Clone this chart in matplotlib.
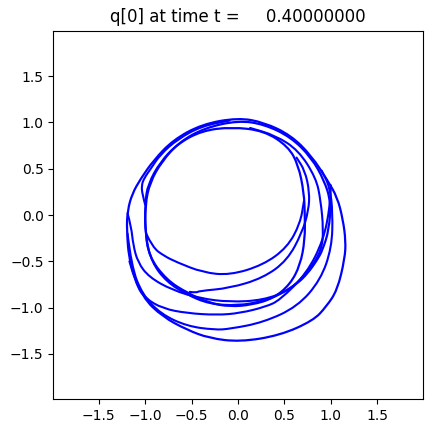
import numpy as np
import matplotlib
matplotlib.use("Agg")
import matplotlib.pyplot as plt
from matplotlib.path import Path
from matplotlib.patches import PathPatch

# contour curves, (x, y) in data units
inner_ring = [(-0.07, 0.95), (-0.39, 0.91), (-0.65, 0.77), (-0.84, 0.57), (-0.97, 0.33),
              (-1.00, 0.14), (-1.00, -0.16), (-0.96, -0.45), (-0.77, -0.70), (-0.55, -0.84),
              (-0.31, -0.95), (-0.09, -0.99), (0.15, -0.97), (0.38, -0.90), (0.56, -0.75),
              (0.67, -0.54), (0.72, -0.27), (0.72, 0.00), (0.71, 0.24), (0.65, 0.54),
              (0.54, 0.74), (0.28, 0.91), (-0.07, 0.95)]

spiral_band = [(0.00, 1.02), (0.28, 0.98), (0.57, 0.84), (0.79, 0.62), (0.93, 0.37),
               (1.00, 0.14), (0.98, -0.16), (0.91, -0.38), (0.85, -0.49), (0.75, -0.63),
               (0.64, -0.74), (0.45, -0.86), (0.27, -0.93), (0.00, -0.98), (-0.31, -0.96),
               (-0.55, -0.86), (-0.77, -0.72), (-0.93, -0.51), (-1.00, -0.22), (-1.00, 0.11),
               (-0.95, 0.35), (-0.82, 0.58), (-0.63, 0.79), (-0.36, 0.94), (0.00, 1.02)]

outer_ring = [(0.00, 1.05), (0.28, 1.00), (0.57, 0.86), (0.79, 0.64), (0.96, 0.38),
              (1.07, 0.19), (1.13, -0.05), (1.16, -0.28), (1.15, -0.47), (1.07, -0.81),
              (0.95, -0.99), (0.81, -1.14), (0.45, -1.30), (0.02, -1.37), (-0.31, -1.33),
              (-0.55, -1.24), (-0.81, -1.10), (-1.03, -0.89), (-1.17, -0.52), (-1.20, -0.16),
              (-1.19, 0.05), (-1.14, 0.23), (-1.05, 0.39), (-0.91, 0.59), (-0.70, 0.81),
              (-0.39, 0.98), (0.00, 1.05)]

inner_arc = [(-0.99, -0.20), (-0.92, -0.35), (-0.80, -0.44), (-0.66, -0.51), (-0.38, -0.62),
             (-0.09, -0.65), (0.27, -0.54), (0.53, -0.35), (0.67, -0.09), (0.71, 0.15)]

kinked_arc = [(-0.52, -0.83), (-0.45, -0.84), (-0.42, -0.82), (-0.09, -0.79), (0.27, -0.68),
              (0.53, -0.49), (0.69, -0.19), (0.76, 0.05), (0.77, 0.25), (0.72, 0.48),
              (0.63, 0.62)]

mid_loop = [(-1.19, 0.02), (-1.15, -0.13), (-1.13, -0.32), (-1.08, -0.51), (-0.96, -0.67),
            (-0.71, -0.81), (-0.41, -0.90), (-0.09, -0.94), (0.27, -0.92), (0.56, -0.81),
            (0.77, -0.59), (0.90, -0.38), (0.92, -0.16), (0.89, 0.16), (0.84, 0.40),
            (0.65, 0.70), (0.40, 0.86), (0.13, 0.94)]

lower_arc = [(-1.17, -0.50), (-1.10, -0.75), (-1.00, -0.90), (-0.81, -1.01), (-0.55, -1.06),
             (-0.23, -1.08), (0.02, -1.06), (0.30, -0.99), (0.45, -0.92), (0.74, -0.63),
             (0.92, -0.27), (0.99, 0.09), (1.00, 0.32)]

bottom_arc = [(-1.19, -0.20), (-1.15, -0.55), (-1.03, -0.86), (-0.83, -1.07), (-0.55, -1.20),
              (-0.25, -1.24), (-0.09, -1.23), (0.27, -1.16), (0.64, -0.99), (0.89, -0.70),
              (1.01, -0.35), (1.02, 0.02), (0.99, 0.30), (0.90, 0.48)]

spike_line = [(-1.00, 0.11), (-1.03, 0.22), (-1.04, 0.32), (-1.01, 0.40), (-0.94, 0.50),
              (-0.84, 0.65), (-0.65, 0.82), (-0.39, 0.96), (-0.09, 1.02)]

closed_curves = [inner_ring, spiral_band, outer_ring]
open_curves = [inner_arc, kinked_arc, mid_loop, lower_arc, bottom_arc, spike_line]


def smooth_path(pts, closed):
    # quadratic bezier through segment midpoints, read points act as controls
    pts = np.asarray(pts, dtype=float)
    if closed:
        pts = pts[:-1]
        mids = (pts + np.roll(pts, -1, axis=0)) / 2
        verts = [mids[-1]]
        codes = [Path.MOVETO]
        for i in range(len(pts)):
            verts += [pts[i], mids[i]]
            codes += [Path.CURVE3, Path.CURVE3]
    else:
        verts = [pts[0]]
        codes = [Path.MOVETO]
        for i in range(1, len(pts) - 1):
            verts += [pts[i], (pts[i] + pts[i + 1]) / 2]
            codes += [Path.CURVE3, Path.CURVE3]
        verts.append(pts[-1])
        codes.append(Path.LINETO)
    return Path(verts, codes)


fig = plt.figure(figsize=(4.33, 4.33), dpi=100)
ax = fig.add_axes([0.1231, 0.0778, 0.8533, 0.8513])

for c in closed_curves:
    ax.add_patch(PathPatch(smooth_path(c, True), fill=False, edgecolor='b', lw=1.6))
for c in open_curves:
    ax.add_patch(PathPatch(smooth_path(c, False), fill=False, edgecolor='b', lw=1.5,
                           capstyle='round'))

ax.set_xlim(-1.99, 1.99)
ax.set_ylim(-1.99, 1.99)
ax.set_xticks([-1.5, -1.0, -0.5, 0.0, 0.5, 1.0, 1.5])
ax.set_yticks([-1.5, -1.0, -0.5, 0.0, 0.5, 1.0, 1.5])
ax.set_title("q[0] at time t =     0.40000000")

fig.savefig("out.png", dpi=100)
